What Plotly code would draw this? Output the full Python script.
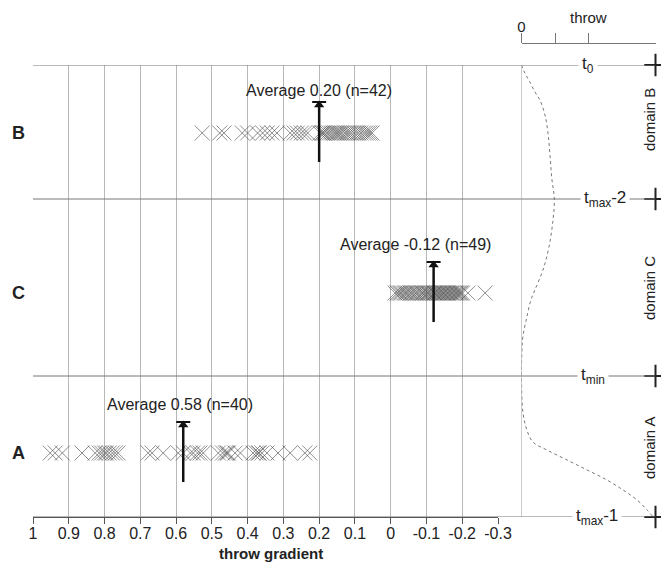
import plotly.graph_objects as go

# ---- data -------------------------------------------------------------
rows = ["B", "C", "A"]
domain_names = ["domain B", "domain C", "domain A"]
averages = [0.20, -0.12, 0.58]
counts = [42, 49, 40]

grad_B = [0.527, 0.478, 0.466, 0.415, 0.400, 0.372, 0.358, 0.345, 0.332, 0.318,
          0.281, 0.270, 0.261, 0.250, 0.241, 0.232, 0.198, 0.192, 0.188, 0.185,
          0.178, 0.172, 0.166, 0.160, 0.155, 0.150, 0.145, 0.140, 0.135, 0.128,
          0.122, 0.116, 0.110, 0.103, 0.096, 0.090, 0.083, 0.076, 0.070, 0.064,
          0.058, 0.052]
grad_C = [-0.012, -0.018, -0.022, -0.027, -0.030, -0.036, -0.041, -0.044, -0.049,
          -0.055, -0.058, -0.063, -0.069, -0.072, -0.077, -0.083, -0.088, -0.091,
          -0.096, -0.101, -0.104, -0.108, -0.112, -0.117, -0.121, -0.124, -0.128,
          -0.131, -0.135, -0.139, -0.142, -0.146, -0.149, -0.153, -0.157, -0.160,
          -0.164, -0.168, -0.171, -0.175, -0.179, -0.183, -0.186, -0.190, -0.193,
          -0.197, -0.201, -0.216, -0.264]
grad_A = [0.952, 0.938, 0.918, 0.863, 0.826, 0.815, 0.808, 0.800, 0.795, 0.787,
          0.778, 0.770, 0.762, 0.678, 0.667, 0.636, 0.594, 0.580, 0.560, 0.540,
          0.552, 0.533, 0.524, 0.482, 0.470, 0.462, 0.458, 0.454, 0.435, 0.420,
          0.385, 0.376, 0.370, 0.368, 0.360, 0.346, 0.315, 0.281, 0.240, 0.226]
gradients = [grad_B, grad_C, grad_A]

tick_vals = [1, 0.9, 0.8, 0.7, 0.6, 0.5, 0.4, 0.3, 0.2, 0.1, 0, -0.1, -0.2, -0.3]
tick_text = ["1", "0.9", "0.8", "0.7", "0.6", "0.5", "0.4", "0.3", "0.2", "0.1",
             "0", "-0.1", "-0.2", "-0.3"]

level_labels = ["t<sub>0</sub>", "t<sub>max</sub>-2", "t<sub>min</sub>", "t<sub>max</sub>-1"]

# throw profile along the fault (position measured up from t_max-1)
profile_pos = [452, 444, 435, 425, 417, 402, 384, 362, 337, 318, 297, 270, 247, 227,
               217, 200, 180, 164, 137, 104, 87, 75, 67, 57, 47, 37, 27, 17, 7, 0]
profile_throw = [0, 0.10, 0.25, 0.40, 0.55, 0.70, 0.79, 0.85, 0.91, 0.98, 0.94, 0.82,
                 0.64, 0.40, 0.28, 0.16, 0.04, 0.01, 0, 0.045, 0.16, 0.34, 0.76, 1.36,
                 1.96, 2.55, 3.03, 3.45, 3.75, 3.93]

# ---- layout helpers -----------------------------------------------------
W, H = 661, 564
FONT = "Liberation Sans, Arial, sans-serif"


def fx(p):
    return p / W


def fy(p):
    return 1 - p / H


row_y = [384, 224, 64]          # marker rows
level_y = [452, 318, 141, 0]    # domain boundaries
label_gap = [12, 18, 18]
label_xshift = [0, -18, -3]
domain_label_y = [397, 229, 69]
level_label_x = [1.99, 2.5, 2.13, 2.25]

fig = go.Figure()

for grad, y in zip(gradients, row_y):
    fig.add_trace(go.Scatter(
        x=grad, y=[y] * len(grad), mode="markers",
        marker=dict(symbol="x-thin", size=15,
                    line=dict(width=1, color="rgba(70,70,70,0.6)")),
        hoverinfo="x"))

annotations = []
for avg, n, y, gap, xs in zip(averages, counts, row_y, label_gap, label_xshift):
    top = y + 31
    fig.add_trace(go.Scatter(x=[avg, avg], y=[y - 29, top - 4], mode="lines",
                             line=dict(color="#111", width=2.5), hoverinfo="skip"))
    fig.add_trace(go.Scatter(x=[avg], y=[top - 3], mode="markers",
                             marker=dict(symbol="triangle-up", size=9, color="#111"),
                             hoverinfo="skip"))
    fig.add_trace(go.Scatter(x=[avg], y=[top], mode="markers",
                             marker=dict(symbol="line-ew", size=10,
                                         line=dict(width=2, color="#111")),
                             hoverinfo="skip"))
    annotations.append(dict(x=avg, y=top + gap, xref="x", yref="y", xshift=xs,
                            text=f"Average {avg:.2f} (n={n})", showarrow=False,
                            font=dict(size=16, color="#222", family=FONT)))

for name, y in zip(rows, row_y):
    annotations.append(dict(x=fx(18), y=y, xref="paper", yref="y",
                            xanchor="center", yanchor="middle",
                            text=f"<b>{name}</b>", showarrow=False,
                            font=dict(size=18, color="#222", family=FONT)))

for name, y in zip(domain_names, domain_label_y):
    annotations.append(dict(x=fx(649), y=y, xref="paper", yref="y", text=name,
                            xanchor="center", yanchor="middle",
                            textangle=-90, showarrow=False,
                            font=dict(size=15, color="#222", family=FONT)))

for lab, y, x in zip(level_labels, level_y, level_label_x):
    annotations.append(dict(x=x, y=y, xref="x2", yref="y", text=lab, showarrow=False,
                            xanchor="center", yanchor="middle",
                            bgcolor="white", borderpad=3,
                            font=dict(size=17, color="#222", family=FONT)))

annotations.append(dict(x=fx(271), y=fy(553), xref="paper", yref="paper",
                        xanchor="center", yanchor="middle",
                        text="<b>throw gradient</b>", showarrow=False,
                        font=dict(size=15, color="#222", family=FONT)))
annotations.append(dict(x=fx(588), y=fy(18), xref="paper", yref="paper",
                        xanchor="center", yanchor="middle",
                        text="throw", showarrow=False,
                        font=dict(size=15, color="#222", family=FONT)))

# throw profile
fig.add_trace(go.Scatter(x=profile_throw, y=profile_pos, xaxis="x2", yaxis="y",
                         mode="lines", line=dict(color="#777", width=1, dash="dot",
                                                 shape="spline"),
                         hoverinfo="skip"))
fig.add_trace(go.Scatter(x=[4] * len(level_y), y=level_y, xaxis="x2", yaxis="y",
                         mode="markers", cliponaxis=False,
                         marker=dict(symbol="cross-thin", size=16,
                                     line=dict(width=2, color="#222")),
                         hoverinfo="skip"))

shapes = []
for y in level_y:
    shapes.append(dict(type="line", xref="paper", yref="y", x0=fx(33), x1=fx(655),
                       y0=y, y1=y, line=dict(color="#777", width=1)))
shapes.append(dict(type="line", xref="x2", yref="y", x0=0, x1=0, y0=0, y1=452,
                   line=dict(color="#999", width=1)))

fig.update_layout(
    width=W, height=H, margin=dict(l=0, r=0, t=0, b=0, autoexpand=False),
    plot_bgcolor="white", paper_bgcolor="white", showlegend=False,
    font=dict(family=FONT, color="#222"),
    xaxis=dict(domain=[fx(33), fx(498)], range=[1, -0.3], tickvals=tick_vals,
               ticktext=tick_text, showgrid=True, gridcolor="#b8b8b8", gridwidth=1,
               zeroline=False, showline=True, linecolor="#555", ticks="outside",
               ticklen=6, tickcolor="#555", tickfont=dict(size=16), anchor="y",
               automargin=False, ticklabelstandoff=-4),
    yaxis=dict(domain=[fy(517), fy(65)], range=[0, 452], visible=False,
               automargin=False),
    xaxis2=dict(domain=[fx(521.5), fx(655.5)], range=[0, 4], anchor="free",
                position=fy(43), side="top", showline=True, linecolor="#777",
                ticks="outside", ticklen=10, tickcolor="#777", tickvals=[0, 1, 2],
                ticktext=["0", "", ""], tickfont=dict(size=15), showgrid=False,
                zeroline=False, automargin=False, ticklabelstandoff=-5),
    annotations=annotations, shapes=shapes,
)

fig.write_html("out.html")
